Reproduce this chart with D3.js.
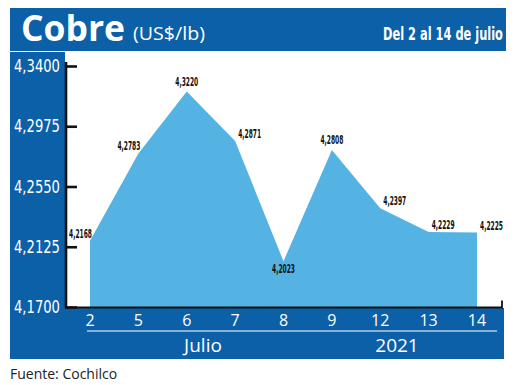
<!DOCTYPE html>
<html>
<head>
<meta charset="utf-8">
<script src="https://cdn.jsdelivr.net/npm/d3@7/dist/d3.min.js"></script>
<style>
  html, body { margin: 0; padding: 0; background: #fff; }
  svg { display: block; }
</style>
</head>
<body>
<svg id="chart" width="520" height="385"></svg>
<script>
// ---- data ----
const categories = ["2", "5", "6", "7", "8", "9", "12", "13", "14"];
const values = [4.2168, 4.2783, 4.3220, 4.2871, 4.2023, 4.2808, 4.2397, 4.2229, 4.2225];
const yTicks = [4.17, 4.2125, 4.255, 4.2975, 4.34];
const labelPlacement = ["left", "left", "top", "right", "bottom", "top", "right", "right", "right"];
const title = "Cobre";
const unit = "(US$/lb)";
const period = "Del 2 al 14 de julio";
const monthLabel = "Julio";
const yearLabel = "2021";
const source = "Fuente: Cochilco";

// ---- styles ----
const BLUE = "#0c60a8";
const AREA = "#55b3e3";
const narrow = "'Liberation Sans Narrow', 'DejaVu Sans Condensed', 'Roboto Condensed', sans-serif";
const sans = "'Open Sans', 'Noto Sans', sans-serif";

const svg = d3.select("#chart");

// place a text at (x,y) squeezed horizontally to a given width (anchor: start)
function fitText(sel, px, py, width) {
  sel.each(function () {
    const w = this.getComputedTextLength();
    const k = w > 0 ? width / w : 1;
    d3.select(this).attr("x", 0).attr("y", 0)
      .attr("transform", `translate(${px},${py}) scale(${k},1)`);
  });
  return sel;
}

// background bands
svg.append("rect").attr("x", 10).attr("y", 8).attr("width", 496).attr("height", 43).attr("fill", BLUE);
svg.append("rect").attr("x", 10).attr("y", 52).attr("width", 55).attr("height", 307).attr("fill", BLUE);
svg.append("rect").attr("x", 10).attr("y", 308).attr("width", 494).attr("height", 51).attr("fill", BLUE);

// header texts
fitText(svg.append("text").attr("fill", "#fff")
  .style("font-family", sans).style("font-weight", "bold").style("font-size", "36px")
  .text(title), 21, 41, 104);
fitText(svg.append("text").attr("fill", "#fff")
  .style("font-family", sans).style("font-size", "19px")
  .text(unit), 133, 40, 72);
fitText(svg.append("text").attr("fill", "#fff")
  .style("font-family", narrow).style("font-weight", "bold").style("font-size", "18px")
  .text(period), 383, 40, 120);

// scales
const x = d3.scalePoint().domain(categories).range([90, 477]);
const y = d3.scaleLinear().domain([4.17, 4.34]).range([307, 66]);

// area
const area = d3.area()
  .x((d, i) => x(categories[i]))
  .y0(y(4.17))
  .y1(d => y(d));
svg.append("path").datum(values).attr("d", area).attr("fill", AREA);

// y axis
const yAxis = d3.axisRight(y).tickValues(yTicks).tickSize(11).tickFormat("");
const gy = svg.append("g").attr("transform", "translate(66,0)").call(yAxis);
gy.select(".domain").attr("stroke", "#111").attr("stroke-width", 2.6).attr("d", "M0,62V308.5");
gy.selectAll(".tick line").attr("stroke", "#111").attr("stroke-width", 2.6);

// y tick labels
const fmt = v => d3.format(".4f")(v).replace(".", ",");
svg.append("g").selectAll("text").data(yTicks).join("text")
  .attr("fill", "#fff")
  .style("font-family", narrow).style("font-size", "18px")
  .text(fmt)
  .each(function (d) { fitText(d3.select(this), 14, y(d) + 6, 46); });

// bottom axis line
const xAxis = d3.axisBottom(x).tickSize(0).tickFormat("");
const gx = svg.append("g").attr("transform", "translate(0,307.5)").call(xAxis);
gx.select(".domain").attr("stroke", "#111").attr("stroke-width", 1.8).attr("d", "M65,0H502V-7");

// x labels
svg.append("g").selectAll("text").data(categories).join("text")
  .attr("x", d => x(d)).attr("y", 326).attr("text-anchor", "middle").attr("fill", "#fff")
  .style("font-family", sans).style("font-size", "16px")
  .text(d => d);

// white rule & month/year
svg.append("line").attr("x1", 87).attr("x2", 497).attr("y1", 331).attr("y2", 331)
  .attr("stroke", "#fff").attr("stroke-width", 1.2);
svg.append("text").attr("x", 203).attr("y", 352).attr("text-anchor", "middle").attr("fill", "#fff")
  .style("font-family", sans).style("font-size", "19px").text(monthLabel);
svg.append("text").attr("x", 397).attr("y", 352).attr("text-anchor", "middle").attr("fill", "#fff")
  .style("font-family", sans).style("font-size", "19px").text(yearLabel);

// value labels
const LW = 23;
svg.append("g").selectAll("text").data(values).join("text")
  .attr("fill", "#111")
  .style("font-family", narrow).style("font-weight", "bold").style("font-size", "12px")
  .text(fmt)
  .each(function (d, i) {
    const p = labelPlacement[i], px = x(categories[i]), py = y(d);
    let lx, ly;
    if (p === "left") { lx = px + 2 - LW; ly = py - 3; }
    else if (p === "right") { lx = px + 3; ly = py - 3; }
    else if (p === "top") { lx = px - LW / 2; ly = py - 6; }
    else { lx = px - LW / 2; ly = py + 12; }
    fitText(d3.select(this), lx, ly, LW);
  });

// source
svg.append("text").attr("x", 10).attr("y", 379).attr("fill", "#222")
  .style("font-family", sans).style("font-size", "14px").text(source);
</script>
</body>
</html>
